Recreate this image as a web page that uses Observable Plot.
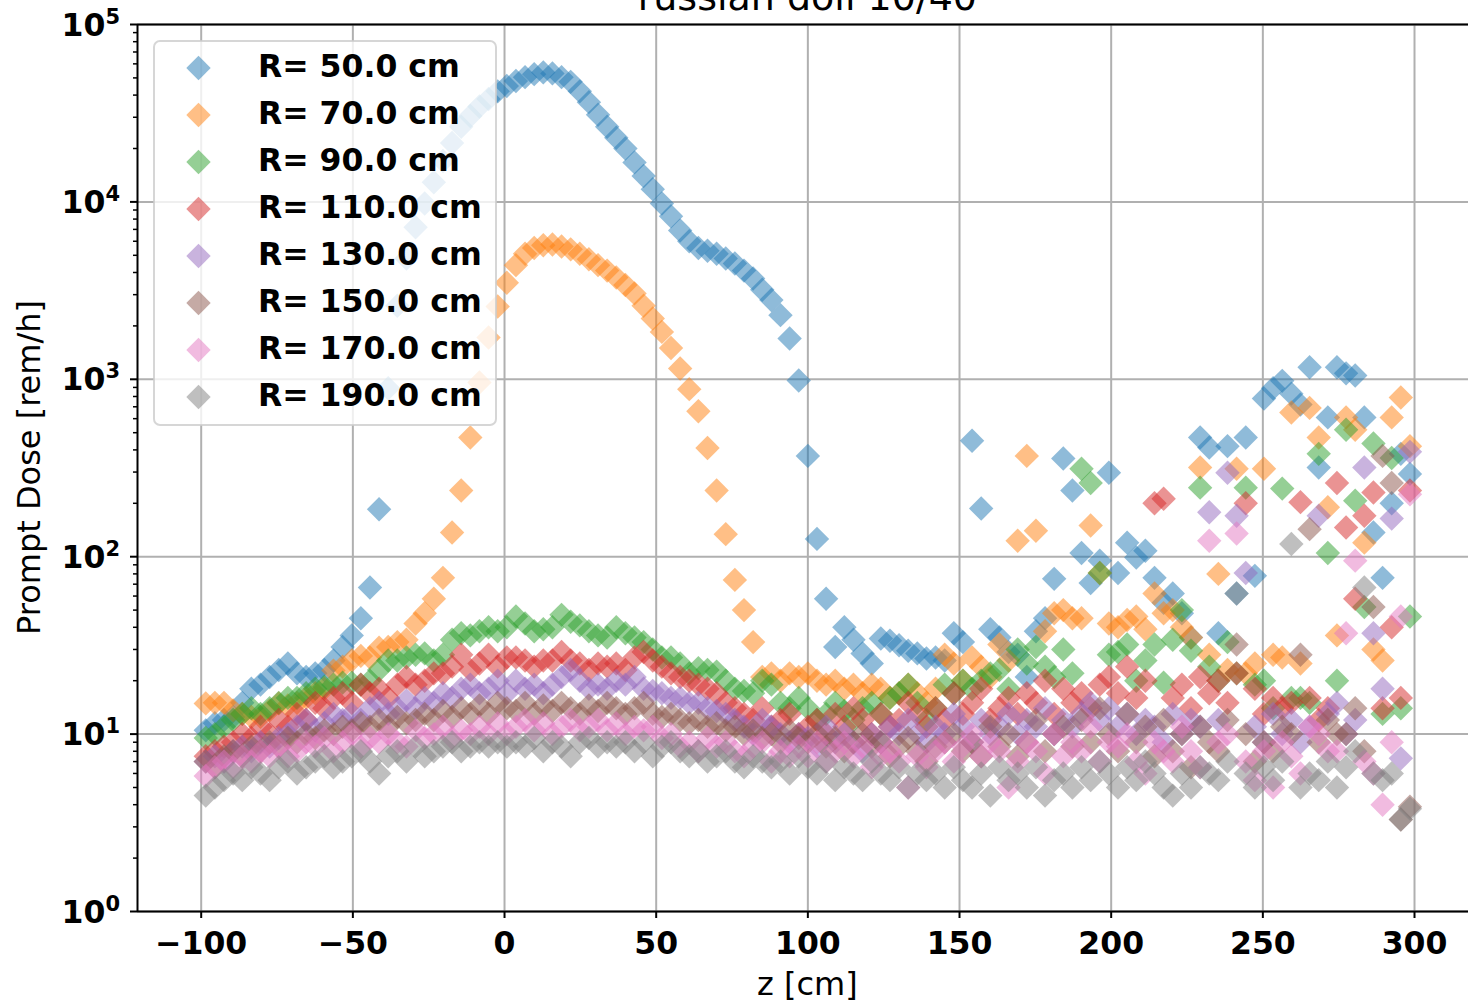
<!DOCTYPE html>
<html><head><meta charset="utf-8">
<script src="https://cdn.jsdelivr.net/npm/d3@7"></script>
<script src="https://cdn.jsdelivr.net/npm/@observablehq/plot@0.6"></script>
<style>
html,body{margin:0;padding:0;background:#fff;}
#chart{width:1468px;height:1002px;overflow:hidden;}
</style></head><body><div id="chart"></div>
<script>
const title = "russian doll 10/40";
const xLabel = "z [cm]";
const yLabel = "Prompt Dose [rem/h]";
const seriesNames = ["R= 50.0 cm","R= 70.0 cm","R= 90.0 cm","R= 110.0 cm","R= 130.0 cm","R= 150.0 cm","R= 170.0 cm","R= 190.0 cm"];
const seriesColors = ["#1f77b4","#ff7f0e","#2ca02c","#d62728","#9467bd","#8c564b","#e377c2","#7f7f7f"];
const xTicks = [-100,-50,0,50,100,150,200,250,300];
const yExponents = [0,1,2,3,4,5];
// z bins: 133 equal bins over [-100, 300] cm, points at bin centres
const zStart = -100, zEnd = 300, nBins = 133;

const r50 = [10.5, 11.5, 12, 12.5, 15, 18, 19, 21, 23, 25,
 22, 21, 22, 23, 26, 31, 36, 45, 67, 185,
 890, 2600, 4800, 7200, 9800, 12900, 17000, 21500, 26500, 30500,
 34500, 38000, 42000, 45000, 48000, 50500, 52500, 53700, 53000, 50500,
 47500, 42000, 36500, 31000, 26500, 23000, 20000, 16700, 14000, 11800,
 9800, 8300, 6900, 6000, 5500, 5300, 5100, 4800, 4500, 4100,
 3700, 3200, 2800, 2300, 1700, 985, 370, 126, 58, 31,
 40, 34, 28.5, 25, 34.6, 33.6, 31.7, 29.5, 28.5, 26.7,
 27, 26, 37, 33, 450, 187, 39, 35, 29, 28,
 21, 38, 45, 75, 358, 236, 105, 71, 95, 297,
 81, 120, 99, 108, 76, 55, 62, 48, 35, 470,
 413, 37, 420, 62, 470, 78, 780, 890, 980, 830,
 720, 1170, 318, 610, 1170, 1080, 1050, 610, 137, 76,
 200, 380, 293];
const r70 = [14.9, 15, 15, 13.6, 13, 12.5, 12.5, 13.6, 14.9, 14.5,
 15, 16, 17, 18, 22.8, 24, 26, 27.6, 27, 30.7,
 31, 33, 34, 42, 48, 58, 76, 137, 236, 470,
 960, 1720, 2570, 3500, 4400, 5100, 5500, 5700, 5750, 5600,
 5400, 5100, 4750, 4400, 4100, 3750, 3400, 3050, 2600, 2200,
 1850, 1500, 1150, 880, 660, 410, 236, 134, 74, 50,
 33, 21, 22, 20, 22, 21, 22, 20, 19, 20,
 18, 19, 17, 19, 18, 16, 17, 19, 17, 15,
 18, 28, 25, 20, 27, 24, 21, 32, 26, 123,
 370, 140, 38, 48, 50, 45, 45, 150, 81, 42,
 40, 44, 46, 39, 62, 48, 50, 40, 35, 318,
 28, 80, 23, 313, 22, 25, 313, 28, 27, 650,
 25, 690, 470, 190, 36, 610, 520, 120, 30, 26,
 610, 790, 420];
const r90 = [9.5, 10, 11, 12, 13, 14, 13, 14, 15, 16,
 16, 17, 18, 18.5, 19, 19.5, 19.5, 19, 20, 23,
 26, 26, 27, 28, 28.5, 26, 28, 34, 37, 36,
 38, 40, 38, 40, 46, 42, 38, 39, 40, 47,
 43, 41, 38, 36, 35, 40, 37, 35, 33, 30,
 27, 27, 25, 22, 23.5, 23, 22.5, 20, 18, 17.5,
 17, 20, 19, 15, 14, 16, 14, 12, 13, 15,
 13.5, 12, 14, 15, 13, 16, 17, 19, 15, 12,
 14, 19, 17, 20, 18, 20, 22, 23, 18, 30,
 25, 31, 24, 21, 30, 22, 313, 260, 81, 28,
 29, 32, 20, 26, 32, 19.5, 34, 50, 29.5, 245,
 24, 20, 33, 22, 245, 19, 20, 14, 242, 16,
 16, 15, 380, 105, 20, 520, 207, 52, 435, 13,
 360, 14, 46];
const r110 = [7.5, 8, 8.5, 9, 10, 9.5, 11, 10, 12, 11,
 13, 12, 15, 14, 16, 17, 15, 19, 17, 18,
 16, 19, 21, 19, 20, 22, 22, 24, 28, 23,
 25, 28, 24, 27, 27, 26, 24, 26, 26, 29,
 26, 25, 23, 25, 24, 25, 23, 27, 29, 26,
 24, 22, 21, 20, 19, 18, 17, 15, 14, 13,
 12, 14, 11, 12, 13, 10, 11, 12, 10, 13,
 11, 14, 12, 10, 13, 11, 12, 15, 13, 11,
 14, 12, 17, 13, 15, 18, 12, 14, 16, 13,
 17, 15, 20, 13, 18, 15, 17, 14, 19, 21,
 17, 24, 16, 20, 200, 212, 16, 19, 14, 21,
 17, 20, 15, 22, 200, 18, 13, 16, 14, 15,
 203, 16, 12, 14, 260, 146, 58, 170, 230, 14,
 40, 16, 236];
const r130 = [7, 7.5, 7, 8, 8.5, 8, 9, 8.5, 9.5, 10,
 11, 12, 10.5, 11.5, 13, 12, 13, 12, 14, 15,
 13, 14, 15.5, 14, 16, 15, 17, 16, 18, 19,
 17, 18, 20, 17, 20, 18, 19, 17, 19, 21,
 23, 20, 18, 19, 18, 20, 19, 21, 18, 17.5,
 17, 16, 16, 15, 15, 14, 13.5, 13, 12, 11,
 10, 12, 11, 10, 9, 10, 9.5, 8.5, 11, 9,
 10, 9, 8, 10, 9, 11, 10, 12, 10, 9,
 11, 10, 13, 11, 9, 12, 10, 11, 13, 10,
 12, 11, 14, 10, 12, 11, 13, 15, 12, 14,
 11, 13, 10, 12, 11, 9, 13, 10, 12, 11,
 178, 12, 297, 170, 81, 11, 9, 13, 10, 12,
 9, 11, 170, 13, 15, 10, 12, 318, 37, 18,
 164, 7.3, 390];
const r150 = [7, 6.5, 7.5, 8, 7.5, 8.5, 8, 9, 8.5, 9.5,
 9, 10, 9.5, 10.5, 10, 11, 10.5, 11.5, 11, 12,
 11, 12.5, 11.5, 12, 13, 12, 13.5, 12.5, 14, 13,
 14.5, 13, 15, 14, 13.5, 15, 13, 14.5, 13.5, 15,
 14, 13, 14.5, 13.5, 15, 14, 13, 14, 15, 13,
 12.5, 13, 12, 11.5, 12, 11, 11.5, 10.5, 11, 10,
 10.5, 9.5, 10, 9, 10.5, 9.5, 9, 10, 8.5, 9.5,
 8, 9, 10, 8.5, 9, 7.5, 8.5, 9.5, 8, 7,
 8.5, 9, 10, 8, 9, 7.5, 11, 8.5, 10, 7.5,
 9, 12, 8, 10, 11, 8.5, 12, 9, 14, 10,
 8, 13, 9, 11, 7.5, 12, 8, 10, 6.5, 11,
 9, 8, 12, 32, 10, 7, 9, 8, 11, 10,
 28, 143, 9, 12, 10, 10, 14, 8, 52, 370,
 260, 3.3, 3.9];
const r170 = [5.8, 6.5, 7, 6.5, 7.5, 7, 8, 7.5, 8.5, 7.5,
 8, 9, 8.5, 9.5, 8, 9, 10, 8.5, 9.5, 9,
 10, 9, 8.5, 10.5, 9.5, 10, 11, 9.5, 10.5, 10,
 11, 10, 11.5, 10, 11, 12, 10.5, 11.5, 10, 11,
 12, 10.5, 11, 12, 10.5, 11.5, 10, 11, 10.5, 11,
 9.5, 10, 8.5, 9, 8, 9.5, 8.5, 9, 8, 7.5,
 8.5, 9, 7, 8, 7.5, 8.5, 7.5, 9, 7, 8,
 9, 7.5, 8.5, 6.5, 7.5, 8, 7, 5, 7.5, 6.5,
 8, 9, 7, 8.5, 10, 7.5, 9, 8, 5, 7,
 9, 8, 6, 10, 7.5, 9, 8, 11, 7, 9,
 8.5, 10, 7, 6, 9, 8, 7, 11, 8, 6.5,
 123, 9, 10, 135, 7, 5.5, 8, 5, 9, 7.5,
 6, 11, 10, 8, 8, 37, 95, 7, 6, 4,
 9, 46, 225];
const r190 = [4.5, 5, 5.5, 6, 5.5, 6.5, 6, 5.5, 6.5, 7,
 6, 6.5, 7, 7.5, 6.5, 7, 7.5, 8, 7, 6,
 7.5, 8, 7, 8.5, 7.5, 8, 8.5, 9, 8, 8.5,
 9, 8.5, 9, 8.5, 9, 8.5, 9.5, 8, 9, 8.5,
 7.5, 9, 9.5, 8.5, 9, 8.5, 9, 8, 9, 7.5,
 8.5, 9, 8, 7.5, 8, 7, 7.5, 8, 7, 6.5,
 7.5, 7, 6.5, 7, 6, 7.5, 6.5, 6, 7, 5.5,
 6.5, 6, 5.5, 7, 6, 5.5, 6.5, 5, 6, 5.5,
 6, 5, 6.5, 5.5, 5, 6, 4.5, 6.5, 5.5, 6,
 5, 6.5, 4.5, 5.5, 6, 5, 6.5, 5.5, 7, 6,
 5, 6.5, 5.5, 7, 6, 5, 4.5, 6, 5, 6.5,
 6, 5.5, 7, 62, 6, 5, 6.5, 5.5, 7, 118,
 5, 6, 5.5, 7, 5, 6.5, 8, 67, 6, 5.5,
 6, 3.3, 3.8];

const seriesValues = [r50, r70, r90, r110, r130, r150, r170, r190];
seriesValues.forEach((a, i) => { if (a.length !== nBins) throw new Error("series " + i + " has " + a.length); });

const z = d3.range(nBins).map(i => zStart + (i + 0.5) * (zEnd - zStart) / nBins);
const data = seriesValues.flatMap((vals, s) =>
  vals.map((v, i) => ({z: z[i], dose: v, series: seriesNames[s]})).filter(d => d.dose != null && d.dose > 0));

const yMajor = yExponents.map(e => Math.pow(10, e));
const yMinor = d3.range(0, 5).flatMap(e => d3.range(2, 10).map(m => m * Math.pow(10, e)));
const fmtX = d => (d < 0 ? "\u2212" + Math.abs(d) : String(d));

const W = 1468, H = 1002;
const R = 11;
const FONT = "DejaVu Sans, sans-serif";
const FS = 31.5;

const plot = Plot.plot({
  width: W, height: H,
  marginLeft: 137, marginRight: 0, marginTop: 24, marginBottom: 91,
  style: {fontFamily: FONT, background: "#fff", color: "#000"},
  x: {domain: [-121, 317.8]},
  y: {type: "log", domain: [1, 1e5]},
  color: {domain: seriesNames, range: seriesColors},
  marks: [
    Plot.gridX(xTicks, {stroke: "#b0b0b0", strokeOpacity: 1, strokeWidth: 2}),
    Plot.gridY(yMajor, {stroke: "#b0b0b0", strokeOpacity: 1, strokeWidth: 2}),
    Plot.dot(data, {x: "z", y: "dose", fill: "series", symbol: "diamond2", r: R, fillOpacity: 0.5, stroke: "none"}),
    Plot.axisX({ticks: xTicks, tickSize: 7, tickPadding: 13, strokeWidth: 2, tickFormat: fmtX,
      fontSize: FS, fontWeight: "bold", label: null}),
    Plot.axisY({ticks: yMajor, tickSize: 7, strokeWidth: 2, tickFormat: () => "", label: null}),
    Plot.axisY({ticks: yMinor, tickSize: 4, strokeWidth: 1.5, tickFormat: () => "", label: null}),
    Plot.ruleX([-121], {stroke: "#000", strokeWidth: 2}),
    Plot.ruleY([1, 1e5], {stroke: "#000", strokeWidth: 2})
  ]
});
document.getElementById("chart").appendChild(plot);

const svg = d3.select(plot);
const ys = plot.scale("y");
const xs = plot.scale("x");

// y tick labels with superscript exponents
const yl = svg.append("g").attr("font-family", FONT).attr("font-weight", "bold").attr("fill", "#000");
yExponents.forEach(e => {
  const y = ys.apply(Math.pow(10, e));
  const t = yl.append("text").attr("x", 120).attr("y", y + 11.5).attr("text-anchor", "end").attr("font-size", FS);
  t.append("tspan").text("10");
  t.append("tspan").attr("dy", -12).attr("font-size", 21).text(String(e));
});

// axis titles and chart title
const cx = (xs.apply(-121) + xs.apply(321)) / 2;
svg.append("text").attr("x", cx).attr("y", 995).attr("text-anchor", "middle")
  .attr("font-family", FONT).attr("font-size", 32).attr("fill", "#000").text(xLabel);
svg.append("text").attr("transform", `translate(40,${(ys.apply(1) + ys.apply(1e5)) / 2}) rotate(-90)`)
  .attr("text-anchor", "middle").attr("font-family", FONT).attr("font-size", 32).attr("fill", "#000").text(yLabel);
svg.append("text").attr("x", cx).attr("y", 10).attr("text-anchor", "middle")
  .attr("font-family", FONT).attr("font-size", 38).attr("fill", "#000").text(title);

// legend
const lg = svg.append("g");
lg.append("rect").attr("x", 154).attr("y", 41).attr("width", 342).attr("height", 384).attr("rx", 6)
  .attr("fill", "#fff").attr("fill-opacity", 0.8).attr("stroke", "#cccccc").attr("stroke-opacity", 0.8).attr("stroke-width", 2);
const sym = d3.symbol(d3.symbolDiamond2, Math.PI * R * R)();
seriesNames.forEach((name, i) => {
  const y = 68 + 47 * i;
  lg.append("path").attr("d", sym).attr("transform", `translate(198.5,${y})`)
    .attr("fill", seriesColors[i]).attr("fill-opacity", 0.5);
  lg.append("text").attr("x", 258).attr("y", y + 9).attr("text-anchor", "start")
    .attr("font-family", FONT).attr("font-weight", "bold")
    .attr("font-size", FS).attr("fill", "#000").style("white-space", "pre").text(name);
});
</script>
</body></html>
